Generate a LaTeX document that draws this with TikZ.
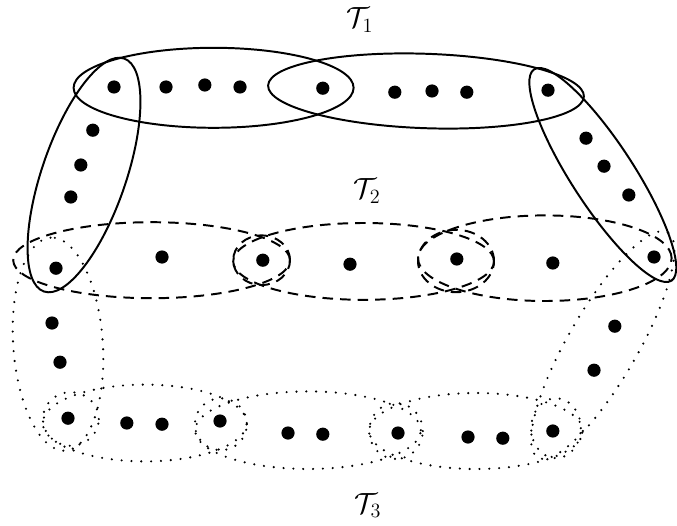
\documentclass[tikz,border=0pt]{standalone}
\usepackage{amsmath}
\usepackage{tikz}
\usetikzlibrary{positioning}

\begin{document}
\begin{tikzpicture}[
  vtx/.style={circle, fill=black, inner sep=0pt, minimum size=0.33cm},
  solidedge/.style={draw, line width=1.4pt},
  dashedge/.style={draw, line width=1.4pt, dash pattern=on 7.5pt off 5pt},
  dotedge/.style={draw, line width=1.7pt, line cap=round, dash pattern=on 0pt off 7pt},
  lbl/.style={font=\huge},
]
\useasboundingbox (0,0) rectangle (16.925,13.125);
% labels
\node[lbl] (t1) at (9.0, 12.62)  {$\mathcal{T}_1$};
\node[lbl] (t2) at (9.18, 8.35)  {$\mathcal{T}_2$};
\node[lbl] (t3) at (9.2, 0.48)   {$\mathcal{T}_3$};
% top row
\node[vtx] (a1) at (2.85, 10.95)  {};
\node[vtx] (a2) at (4.15, 10.95)  {};
\node[vtx] (a3) at (5.12, 11.0)   {};
\node[vtx] (a4) at (6.0, 10.95)   {};
\node[vtx] (a5) at (8.07, 10.92)  {};
\node[vtx] (a6) at (9.87, 10.82)  {};
\node[vtx] (a7) at (10.8, 10.85)  {};
\node[vtx] (a8) at (11.67, 10.82) {};
\node[vtx] (a9) at (13.7, 10.87)  {};
% left and right sides
\node[vtx] (l1) at (2.32, 9.87) {};
\node[vtx] (l2) at (2.02, 9.0)  {};
\node[vtx] (l3) at (1.77, 8.2)  {};
\node[vtx] (r1) at (14.65, 9.67) {};
\node[vtx] (r2) at (15.1, 8.97)  {};
\node[vtx] (r3) at (15.72, 8.25) {};
% middle row
\node[vtx] (m1) at (1.4, 6.42)   {};
\node[vtx] (m2) at (4.05, 6.7)   {};
\node[vtx] (m3) at (6.57, 6.62)  {};
\node[vtx] (m4) at (8.75, 6.52)  {};
\node[vtx] (m5) at (11.42, 6.65) {};
\node[vtx] (m6) at (13.82, 6.55) {};
\node[vtx] (m7) at (16.35, 6.7)  {};
% lower sides
\node[vtx] (p1) at (1.3, 5.05)   {};
\node[vtx] (p2) at (1.5, 4.07)   {};
\node[vtx] (q1) at (15.37, 4.97) {};
\node[vtx] (q2) at (14.85, 3.87) {};
% bottom row
\node[vtx] (b1)  at (1.7, 2.67)   {};
\node[vtx] (b2)  at (3.17, 2.55)  {};
\node[vtx] (b3)  at (4.05, 2.52)  {};
\node[vtx] (b4)  at (5.5, 2.6)    {};
\node[vtx] (b5)  at (7.2, 2.3)    {};
\node[vtx] (b6)  at (8.07, 2.27)  {};
\node[vtx] (b7)  at (9.95, 2.3)   {};
\node[vtx] (b8)  at (11.7, 2.2)   {};
\node[vtx] (b9)  at (12.57, 2.17) {};
\node[vtx] (b10) at (13.82, 2.35) {};
% T1
\draw[solidedge] (5.34,10.93) ellipse (3.5 and 1.0);
\draw[solidedge, rotate around={-2:(10.65,10.85)}] (10.65,10.85) ellipse (3.95 and 0.93);
\draw[solidedge, rotate around={71:(2.1,8.75)}] (2.1,8.75) ellipse (3.08 and 1.05);
\draw[solidedge, rotate around={123:(15.07,8.75)}] (15.07,8.75) ellipse (3.15 and 0.78);
% T2
\draw[dashedge] (3.79,6.62) ellipse (3.46 and 0.95);
\draw[dashedge] (9.09,6.59) ellipse (3.26 and 0.96);
\draw[dashedge] (13.62,6.67) ellipse (3.17 and 1.07);
\draw[dashedge] (6.54,6.62) ellipse (0.71 and 0.62);
\draw[dashedge] (11.4,6.6) ellipse (0.95 and 0.78);
% T3
\draw[dotedge, rotate around={94:(1.45,4.52)}] (1.45,4.52) ellipse (2.67 and 1.12);
\draw[dotedge, rotate around={60:(15.07,4.5)}] (15.07,4.5) ellipse (3.25 and 0.87);
\draw[dotedge] (3.62,2.55) ellipse (2.55 and 0.96);
\draw[dotedge] (7.7,2.37) ellipse (2.82 and 0.97);
\draw[dotedge] (11.9,2.35) ellipse (2.67 and 0.95);
\draw[dotedge] (1.77,2.65) ellipse (0.7 and 0.67);
\draw[dotedge] (5.52,2.52) ellipse (0.65 and 0.65);
\draw[dotedge] (9.9,2.35) ellipse (0.67 and 0.7);
\draw[dotedge] (13.9,2.42) ellipse (0.62 and 0.75);
\end{tikzpicture}
\end{document}
